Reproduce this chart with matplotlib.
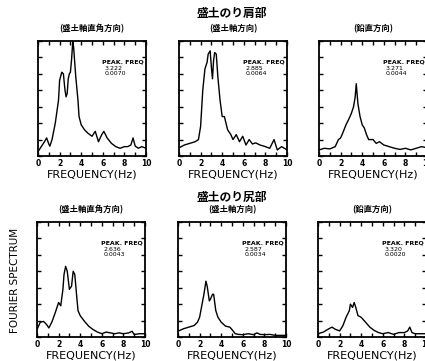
#!/usr/bin/env python3

import matplotlib
matplotlib.use('Agg')
import matplotlib.pyplot as plt
from matplotlib.ticker import MultipleLocator

plt.rcParams['font.family'] = ['DejaVu Sans', 'Noto Sans CJK JP']

# shoulder of embankment (top row)
tl_f = [0, 0.3, 0.6, 0.8, 1.0, 1.1, 1.3, 1.6, 1.9, 2.0, 2.2, 2.35, 2.5, 2.6, 2.7, 2.8, 2.9, 3.0, 3.1,
        3.222, 3.3, 3.5, 3.7, 3.8, 4.0, 4.3, 4.6, 5.0, 5.3, 5.6, 5.9, 6.1, 6.4, 6.8, 7.2, 7.6, 8.0,
        8.3, 8.6, 8.8, 9.0, 9.3, 9.6, 10]
tl_v = [0.00026, 0.00057, 0.00087, 0.0011, 0.00073, 0.0006, 0.001, 0.002, 0.0034, 0.0046, 0.0051,
        0.005, 0.004, 0.0036, 0.0038, 0.0047, 0.005, 0.0051, 0.0058, 0.0070, 0.0066, 0.0048, 0.0034,
        0.0024, 0.0019, 0.0016, 0.0014, 0.0012, 0.0015, 0.00087, 0.0013, 0.0015, 0.0011, 0.00077,
        0.00057, 0.00047, 0.00057, 0.00057, 0.00067, 0.0011, 0.0006, 0.00047, 0.00057, 0.00047]

tm_f = [0, 0.5, 1.0, 1.5, 1.8, 2.0, 2.2, 2.4, 2.6, 2.7, 2.885, 3.0, 3.1, 3.2, 3.3, 3.45, 3.6, 3.8,
        4.0, 4.2, 4.5, 4.8, 5.0, 5.3, 5.6, 5.9, 6.2, 6.5, 6.8, 7.1, 7.5, 8.0, 8.4, 8.8, 9.1, 9.5, 10]
tm_v = [0.0005, 0.00067, 0.00077, 0.00087, 0.001, 0.0018, 0.004, 0.0053, 0.0057, 0.0062, 0.0064,
        0.0054, 0.0047, 0.0058, 0.0063, 0.0062, 0.0048, 0.0034, 0.0024, 0.0024, 0.0016, 0.0013,
        0.001, 0.0013, 0.00087, 0.0012, 0.00067, 0.001, 0.00073, 0.0008, 0.00067, 0.00057, 0.00047,
        0.001, 0.00037, 0.00057, 0.00037]

tr_f = [0, 0.5, 1.0, 1.5, 1.8, 2.0, 2.2, 2.5, 2.8, 3.0, 3.2, 3.35, 3.45, 3.6, 3.8, 4.0, 4.2, 4.4,
        4.6, 5.0, 5.3, 5.6, 6.0, 6.5, 7.0, 7.5, 8.0, 8.5, 9.0, 9.5, 10]
tr_v = [0.00037, 0.00047, 0.00043, 0.00057, 0.001, 0.0011, 0.0014, 0.0019, 0.0023, 0.0026, 0.003,
        0.0036, 0.0044, 0.0032, 0.0024, 0.0019, 0.0017, 0.0013, 0.001, 0.001, 0.00077, 0.00087,
        0.00067, 0.00057, 0.00047, 0.0004, 0.00047, 0.00037, 0.00047, 0.00057, 0.0005]

# toe of embankment (bottom row)
bl_f = [0, 0.3, 0.6, 0.9, 1.1, 1.4, 1.7, 1.9, 2.0, 2.2, 2.4, 2.5, 2.65, 2.8, 3.0, 3.2, 3.35, 3.5,
        3.7, 3.8, 4.0, 4.4, 4.8, 5.2, 5.6, 6.0, 6.4, 6.8, 7.2, 7.6, 8.0, 8.5, 8.8, 9.0, 9.5, 10]
bl_v = [0.00045, 0.0009, 0.00095, 0.00075, 0.00055, 0.00095, 0.0015, 0.0019, 0.0021, 0.0019,
        0.0029, 0.0038, 0.0043, 0.004, 0.0029, 0.0031, 0.004, 0.0038, 0.0023, 0.0016, 0.0013,
        0.00095, 0.00065, 0.00045, 0.0003, 0.0002, 0.0003, 0.00025, 0.0002, 0.00025, 0.0002,
        0.00025, 0.00035, 0.00015, 0.0002, 0.0002]

bm_f = [0, 0.5, 1.0, 1.5, 1.8, 2.0, 2.2, 2.4, 2.587, 2.7, 2.9, 3.0, 3.2, 3.3, 3.5, 3.7, 4.0, 4.4,
        4.8, 5.0, 5.3, 5.6, 6.0, 6.5, 7.0, 7.3, 7.6, 8.0, 8.5, 9.0, 9.5, 10]
bm_v = [0.00035, 0.0005, 0.0006, 0.0007, 0.0009, 0.0012, 0.0019, 0.0026, 0.0034, 0.0031, 0.0022,
        0.0023, 0.0026, 0.0026, 0.0016, 0.0012, 0.0009, 0.00066, 0.0006, 0.00045, 0.0002, 0.00016,
        0.00014, 0.0002, 0.00014, 0.00025, 0.00016, 0.00014, 0.00016, 0.0001, 0.0001, 0.0001]

br_f = [0, 0.5, 1.0, 1.3, 1.6, 2.0, 2.3, 2.6, 2.9, 3.0, 3.2, 3.35, 3.5, 3.7, 4.0, 4.4, 4.8, 5.2,
        5.6, 6.0, 6.5, 7.0, 7.5, 8.0, 8.3, 8.5, 8.7, 9.0, 9.5, 10]
br_v = [0.0002, 0.0003, 0.0005, 0.0006, 0.00047, 0.00037, 0.00068, 0.0012, 0.0016, 0.002, 0.0018,
        0.0021, 0.0018, 0.0013, 0.0012, 0.0009, 0.0006, 0.0004, 0.00027, 0.0002, 0.00027, 0.00016,
        0.00027, 0.00027, 0.00037, 0.0006, 0.00027, 0.0002, 0.0002, 0.0002]

peak_freq = ['3.222', '2.885', '3.271', '2.636', '2.587', '3.320']
peak_amp = ['0.0070', '0.0064', '0.0044', '0.0043', '0.0034', '0.0020']
titles = ['盛土のり肩部', '盛土のり尻部']
subtitles = ['(盛土軸直角方向)', '(盛土軸方向)', '(鉛直方向)']

cjk = ['Noto Sans CJK JP', 'DejaVu Sans']


def draw_panel(fig, rect, f, v, pf, pa, sub):
    ax = fig.add_axes(rect)
    ax.plot(f, v, color='black', lw=1.0)
    ax.set_xlim(0, 10)
    ax.set_ylim(0, 0.007)
    ax.xaxis.set_major_locator(MultipleLocator(2))
    ax.xaxis.set_minor_locator(MultipleLocator(1))
    ax.yaxis.set_major_locator(MultipleLocator(0.001))
    ax.set_yticklabels([])
    ax.tick_params(which='both', direction='in', top=True, right=True,
                   length=3, width=1, labelsize=5.5, pad=2)
    ax.set_xticks([0, 2, 4, 6, 8, 10])
    ax.set_xticklabels(['0', '2', '4', '6', '8', '10'], fontweight='bold')
    for s in ax.spines.values():
        s.set_linewidth(1.3)
    ax.set_xlabel('FREQUENCY(Hz)', fontsize=8, labelpad=1)
    ax.text(0.98, 0.82, 'PEAK. FREQ', transform=ax.transAxes, ha='right',
            va='center', fontsize=4.5, fontweight='bold')
    ax.text(0.62, 0.765, pf, transform=ax.transAxes, ha='left', va='center', fontsize=4.5)
    ax.text(0.62, 0.72, pa, transform=ax.transAxes, ha='left', va='center', fontsize=4.5)
    ax.text(0.5, 1.11, sub, transform=ax.transAxes, ha='center', va='center',
            fontsize=6, fontweight='bold', family=cjk)
    return ax


def main():
    fig = plt.figure(figsize=(4.25, 3.61), dpi=100)
    w = 108 / 425
    h = 115 / 361
    data = [(tl_f, tl_v), (tm_f, tm_v), (tr_f, tr_v),
            (bl_f, bl_v), (bm_f, bm_v), (br_f, br_v)]
    lefts = [38, 179, 319, 37, 178, 318]
    bottoms = [1 - 156 / 361] * 3 + [1 - 337 / 361] * 3
    for i, (f, v) in enumerate(data):
        draw_panel(fig, [lefts[i] / 425, bottoms[i], w, h], f, v,
                   peak_freq[i], peak_amp[i], subtitles[i % 3])

    fig.text(232 / 425, 1 - 14 / 361, titles[0], ha='center', va='center',
             fontsize=8.5, fontweight='bold', family=cjk)
    fig.text(232 / 425, 1 - 197 / 361, titles[1], ha='center', va='center',
             fontsize=8.5, fontweight='bold', family=cjk)
    fig.text(0.035, 1 - 280 / 361, 'FOURIER SPECTRUM', rotation=90,
             ha='center', va='center', fontsize=7.5)

    fig.savefig('out.png', dpi=100)


if __name__ == '__main__':
    main()
